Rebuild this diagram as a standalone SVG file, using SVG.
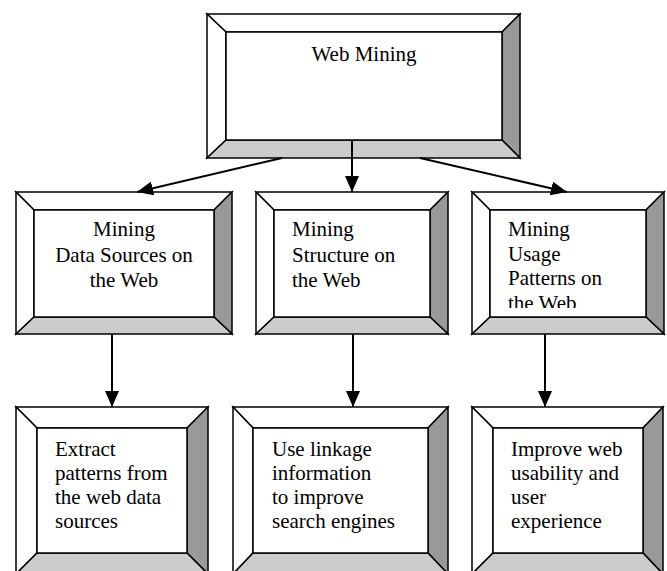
<svg xmlns="http://www.w3.org/2000/svg" width="667" height="571" viewBox="0 0 667 571">
<style>
  .bev { stroke: #000; stroke-width: 1.5; stroke-linejoin: miter; }
  .lt { fill: #ffffff; }
  .bt { fill: #cccccc; }
  .rt { fill: #999999; }
  .face { fill: #ffffff; stroke: #000; stroke-width: 1.5; }
  .t { font-family: 'Liberation Serif', 'Times New Roman', serif; font-size: 21px; fill: #000; }
  .c { text-anchor: middle; }
  .con { stroke: #000; stroke-width: 2; fill: none; marker-end: url(#ah); }
</style>
<defs>
  <marker id="ah" markerUnits="userSpaceOnUse" markerWidth="16" markerHeight="14" refX="16" refY="7" orient="auto">
    <path d="M0,0 L16,7 L0,14 z" fill="#000"/>
  </marker>
  <clipPath id="clipUsage"><rect x="490" y="210" width="156" height="98"/></clipPath>
</defs>
<rect width="667" height="571" fill="#fff"/>

<g id="web-mining">
  <polygon class="bev lt" points="207,14 520,14 502,32 226,32"/>
  <polygon class="bev lt" points="207,14 226,32 226,140 207,158"/>
  <polygon class="bev rt" points="520,14 520,158 502,140 502,32"/>
  <polygon class="bev bt" points="207,158 226,140 502,140 520,158"/>
  <rect class="face" x="226" y="32" width="276" height="108"/>
  <text class="t c" x="364" y="61">Web Mining</text>
</g>

<g id="mining-data-sources">
  <polygon class="bev lt" points="16,192 232,192 214,210 34,210"/>
  <polygon class="bev lt" points="16,192 34,210 34,317 16,334"/>
  <polygon class="bev rt" points="232,192 232,334 214,317 214,210"/>
  <polygon class="bev bt" points="16,334 34,317 214,317 232,334"/>
  <rect class="face" x="34" y="210" width="180" height="107"/>
  <text class="t c" x="124" y="236">Mining</text>
  <text class="t c" x="124" y="261.5">Data Sources on</text>
  <text class="t c" x="124" y="287">the Web</text>
</g>

<g id="mining-structure">
  <polygon class="bev lt" points="256,192 448,192 430,210 274,210"/>
  <polygon class="bev lt" points="256,192 274,210 274,317 256,334"/>
  <polygon class="bev rt" points="448,192 448,334 430,317 430,210"/>
  <polygon class="bev bt" points="256,334 274,317 430,317 448,334"/>
  <rect class="face" x="274" y="210" width="156" height="107"/>
  <text class="t" x="292" y="236">Mining</text>
  <text class="t" x="292" y="261.5">Structure on</text>
  <text class="t" x="292" y="287">the Web</text>
</g>

<g id="mining-usage">
  <polygon class="bev lt" points="472,192 664,192 646,210 490,210"/>
  <polygon class="bev lt" points="472,192 490,210 490,317 472,334"/>
  <polygon class="bev rt" points="664,192 664,334 646,317 646,210"/>
  <polygon class="bev bt" points="472,334 490,317 646,317 664,334"/>
  <rect class="face" x="490" y="210" width="156" height="107"/>
  <g clip-path="url(#clipUsage)">
    <text class="t" x="508" y="236">Mining</text>
    <text class="t" x="508" y="260.5">Usage</text>
    <text class="t" x="508" y="285">Patterns on</text>
    <text class="t" x="508" y="309.5">the Web</text>
  </g>
</g>

<g id="extract-patterns">
  <polygon class="bev lt" points="16,407 208,407 187,428 37,428"/>
  <polygon class="bev lt" points="16,407 37,428 37,553 16,574"/>
  <polygon class="bev rt" points="208,407 208,574 187,553 187,428"/>
  <polygon class="bev bt" points="16,574 37,553 187,553 208,574"/>
  <rect class="face" x="37" y="428" width="150" height="125"/>
  <text class="t" x="55" y="456">Extract</text>
  <text class="t" x="55" y="480">patterns from</text>
  <text class="t" x="55" y="504">the web data</text>
  <text class="t" x="55" y="528">sources</text>
</g>

<g id="use-linkage">
  <polygon class="bev lt" points="233,407 448,407 428,428 253,428"/>
  <polygon class="bev lt" points="233,407 253,428 253,553 233,574"/>
  <polygon class="bev rt" points="448,407 448,574 428,553 428,428"/>
  <polygon class="bev bt" points="233,574 253,553 428,553 448,574"/>
  <rect class="face" x="253" y="428" width="175" height="125"/>
  <text class="t" x="272" y="456">Use linkage</text>
  <text class="t" x="272" y="480">information</text>
  <text class="t" x="272" y="504">to improve</text>
  <text class="t" x="272" y="528">search engines</text>
</g>

<g id="improve-usability">
  <polygon class="bev lt" points="472,407 663,407 643,428 493,428"/>
  <polygon class="bev lt" points="472,407 493,428 493,553 472,574"/>
  <polygon class="bev rt" points="663,407 663,574 643,553 643,428"/>
  <polygon class="bev bt" points="472,574 493,553 643,553 663,574"/>
  <rect class="face" x="493" y="428" width="150" height="125"/>
  <text class="t" x="511" y="456">Improve web</text>
  <text class="t" x="511" y="480">usability and</text>
  <text class="t" x="511" y="504">user</text>
  <text class="t" x="511" y="528">experience</text>
</g>

<g id="connectors">
  <line class="con" x1="282" y1="158" x2="137" y2="192"/>
  <line class="con" x1="352" y1="140" x2="352" y2="192"/>
  <line class="con" x1="420" y1="158" x2="567" y2="192"/>
  <line class="con" x1="112" y1="334" x2="112" y2="407"/>
  <line class="con" x1="353" y1="334" x2="353" y2="407"/>
  <line class="con" x1="545" y1="334" x2="545" y2="407"/>
</g>
</svg>
